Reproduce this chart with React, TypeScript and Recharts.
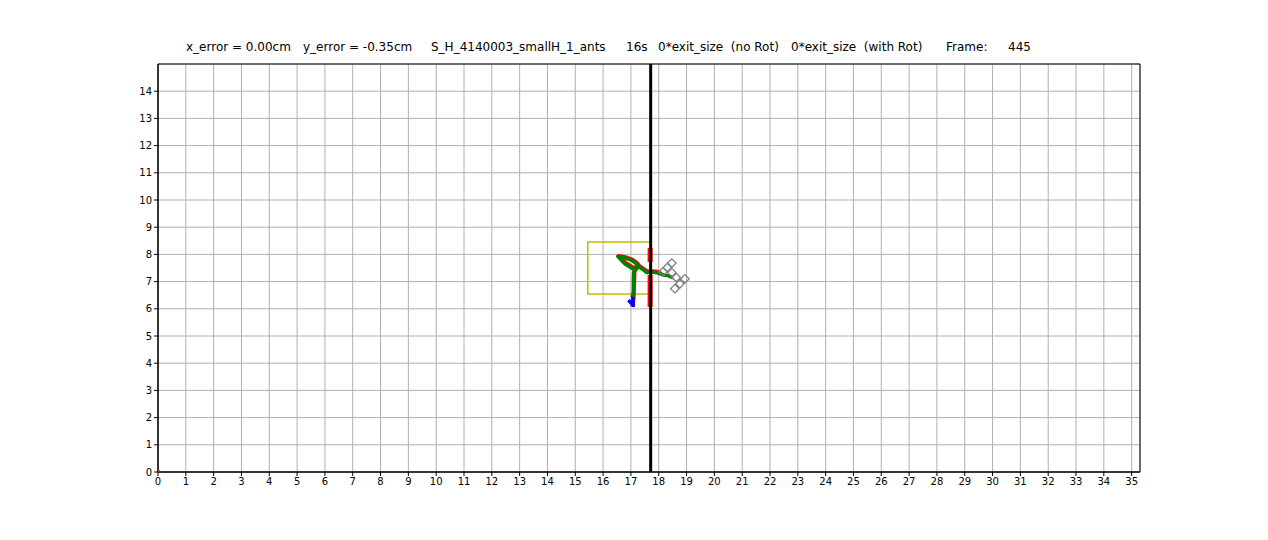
import React from 'react'
import {
  ComposedChart,
  Line,
  Scatter,
  XAxis,
  YAxis,
  CartesianGrid,
  ReferenceArea,
  ReferenceLine,
} from 'recharts'

// arena bounds and ticks
const xTicks = Array.from({ length: 36 }, (_, i) => i)
const yTicks = Array.from({ length: 15 }, (_, i) => i)
const xMax = 35.3
const yMax = 15

// exit wall and the starting box
const wallX = 17.71
const box = { x1: 15.45, x2: 17.71, y1: 6.54, y2: 8.46 }

// load trajectory pieces, [x, y] in cm
const bluePath: [number, number][] = [
  [17.06, 6.5],
  [17.09, 6.12],
  [16.91, 6.32],
]

const greenPath: [number, number][] = [
  [17.05, 6.45],
  [17.09, 6.63],
  [17.09, 7.06],
  [17.1, 7.36],
  [17.21, 7.48],
  [17.03, 7.49],
  [16.79, 7.65],
  [16.53, 7.92],
  [16.79, 7.87],
  [17.03, 7.78],
  [17.18, 7.67],
  [17.27, 7.55],
  [17.45, 7.43],
  [17.57, 7.33],
  [17.69, 7.33],
  [17.81, 7.35],
  [17.98, 7.31],
  [18.16, 7.24],
  [18.34, 7.22],
  [18.52, 7.14],
]

const redPath: [number, number][] = [
  [17.06, 6.07],
  [17.1, 6.45],
  [17.12, 7.06],
  [17.13, 7.4],
  [17.24, 7.52],
  [17.05, 7.53],
  [16.8, 7.7],
  [16.55, 7.94],
  [16.8, 7.9],
  [17.05, 7.81],
  [17.2, 7.7],
  [17.3, 7.58],
  [17.47, 7.46],
  [17.6, 7.37],
  [17.75, 7.38],
  [17.95, 7.36],
  [18.1, 7.28],
]

const redWallTop: [number, number][] = [
  [17.69, 8.24],
  [17.69, 7.72],
]
const redWallLow: [number, number][] = [
  [17.69, 7.24],
  [17.69, 6.07],
]
const originDot: [number, number][] = [[0.03, 0.03]]

// shape outline (grey squares)
const shapeCells: [number, number][] = [
  [18.15, 7.36],
  [18.31, 7.52],
  [18.47, 7.68],
  [18.47, 7.33],
  [18.63, 7.15],
  [18.58, 6.74],
  [18.76, 6.92],
  [18.94, 7.1],
]

const titleParts: [string, number][] = [
  ['x_error = 0.00cm', 186],
  ['y_error = -0.35cm', 303],
  ['S_H_4140003_smallH_1_ants', 431],
  ['16s', 626],
  ['0*exit_size  (no Rot)', 658],
  ['0*exit_size  (with Rot)', 791],
  ['Frame:', 946],
  ['445', 1008],
]

const pts = (a: [number, number][]) => a.map(([x, y]) => ({ x, y }))

const font = 'DejaVu Sans, sans-serif'
const tickStyle = { fontSize: 10, fill: '#000', fontFamily: font }

function Cell(props: any) {
  const { cx, cy } = props
  const s = 6
  return (
    <rect
      x={cx - s / 2}
      y={cy - s / 2}
      width={s}
      height={s}
      fill="none"
      stroke="#808080"
      strokeWidth={1.3}
      transform={`rotate(45 ${cx} ${cy})`}
    />
  )
}

function Dot(props: any) {
  const { cx, cy } = props
  return <circle cx={cx} cy={cy} r={1.2} fill="#ff0000" />
}

export default function App() {
  return (
    <div
      style={{
        position: 'absolute',
        left: 0,
        top: 0,
        width: 1268,
        height: 540,
        background: '#fff',
        fontFamily: font,
      }}
    >
      {titleParts.map(([t, x]) => (
        <span
          key={t}
          style={{
            position: 'absolute',
            left: x,
            top: 39,
            fontSize: 12,
            lineHeight: '16px',
            whiteSpace: 'pre',
            color: '#000',
          }}
        >
          {t}
        </span>
      ))}
      <ComposedChart
        width={1268}
        height={540}
        margin={{ top: 64, right: 128, left: 128, bottom: 48 }}
      >
        <CartesianGrid stroke="#b0b0b0" strokeWidth={1} />
        <XAxis
          type="number"
          dataKey="x"
          domain={[0, xMax]}
          ticks={xTicks}
          allowDataOverflow
          tick={tickStyle}
          tickSize={4}
          tickLine={{ stroke: '#000' }}
          axisLine={{ stroke: '#000' }}
          height={20}
          interval={0}
        />
        <YAxis
          type="number"
          dataKey="y"
          domain={[0, yMax]}
          ticks={yTicks}
          allowDataOverflow
          tick={tickStyle}
          tickSize={4}
          tickLine={{ stroke: '#000' }}
          axisLine={{ stroke: '#000' }}
          width={30}
          interval={0}
        />
        <ReferenceArea
          x1={0}
          x2={xMax}
          y1={0}
          y2={yMax}
          fill="none"
          stroke="#000"
          strokeWidth={1}
        />
        <ReferenceArea
          x1={box.x1}
          x2={box.x2}
          y1={box.y1}
          y2={box.y2}
          fill="none"
          stroke="#bfbf00"
          strokeWidth={1.5}
        />
        <Line data={pts(redWallTop)} dataKey="y" stroke="#ff0000" strokeWidth={5} dot={false} isAnimationActive={false} />
        <Line data={pts(redWallLow)} dataKey="y" stroke="#ff0000" strokeWidth={5} dot={false} isAnimationActive={false} />
        <Line data={pts(redPath)} dataKey="y" stroke="#ff0000" strokeWidth={4} strokeLinejoin="round" dot={false} isAnimationActive={false} />
        <Line data={pts(bluePath)} dataKey="y" stroke="#0000ff" strokeWidth={3.5} strokeLinejoin="round" dot={false} isAnimationActive={false} />
        <Line data={pts(greenPath)} dataKey="y" stroke="#008000" strokeWidth={3.5} strokeLinejoin="round" dot={false} isAnimationActive={false} />
        <ReferenceLine x={wallX} stroke="#000" strokeWidth={3} />
        <Scatter data={pts(shapeCells)} shape={<Cell />} isAnimationActive={false} />
        <Scatter data={pts(originDot)} shape={<Dot />} isAnimationActive={false} />
      </ComposedChart>
    </div>
  )
}
